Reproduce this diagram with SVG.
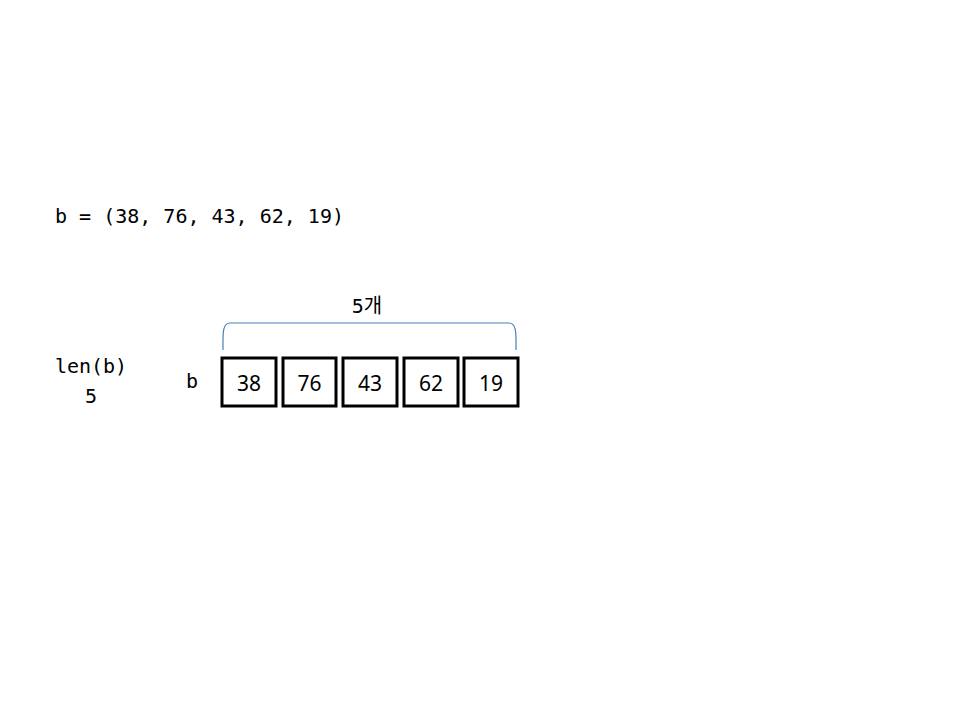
<svg xmlns="http://www.w3.org/2000/svg" width="960" height="720" viewBox="0 0 960 720">
<style>
.mono{font-family:"DejaVu Sans Mono","Noto Sans CJK KR",monospace;fill:#000}
.num{font-family:"Noto Sans","Noto Sans CJK KR",sans-serif;font-size:21px;fill:#000;text-anchor:middle}
.box{fill:#fff;stroke:#000;stroke-width:3}
</style>
<rect width="960" height="720" fill="#fff"/>
<text class="mono" x="55" y="223" font-size="20">b = (38, 76, 43, 62, 19)</text>
<g id="len">
<text class="mono" x="91" y="373" font-size="20" text-anchor="middle">len(b)</text>
<text class="mono" x="91" y="403" font-size="20" text-anchor="middle">5</text>
</g>
<text class="mono" x="192" y="388" font-size="20" text-anchor="middle">b</text>
<g id="connectors">
<path d="M223,350 C223,335 222,323 230,323 L509,323 C517,323 516,335 516,350" fill="none" stroke="#4a7ebb" stroke-width="1.2"/>
</g>
<text class="mono" x="367" y="313" font-size="20" text-anchor="middle">5개</text>
<g id="n0"><rect class="box" x="222" y="358" width="54" height="48"/><text class="num" x="249" y="391">38</text></g>
<g id="n1"><rect class="box" x="283" y="358" width="53" height="48"/><text class="num" x="309.5" y="391">76</text></g>
<g id="n2"><rect class="box" x="343" y="358" width="54" height="48"/><text class="num" x="370" y="391">43</text></g>
<g id="n3"><rect class="box" x="404" y="358" width="54" height="48"/><text class="num" x="431" y="391">62</text></g>
<g id="n4"><rect class="box" x="464" y="358" width="54" height="48"/><text class="num" x="491" y="391">19</text></g>
</svg>
